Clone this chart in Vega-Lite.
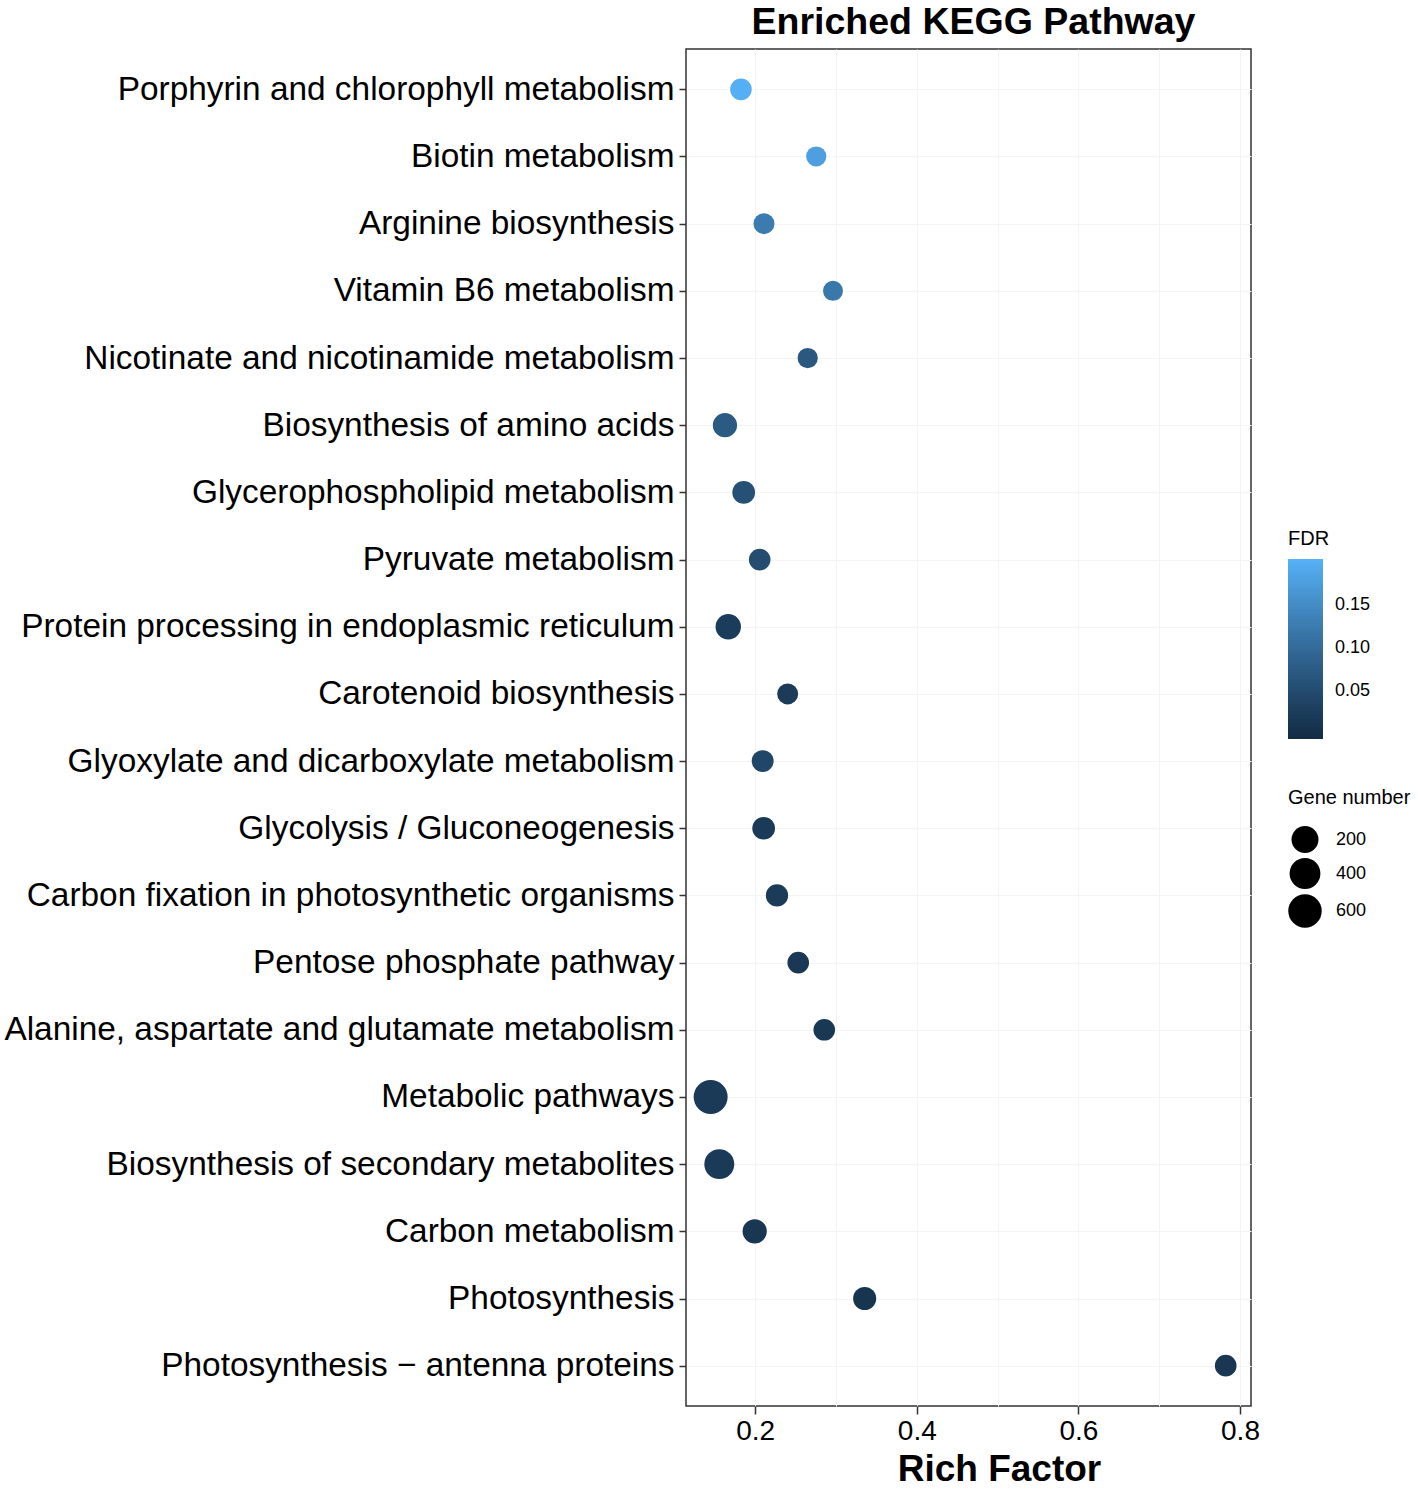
{
  "$schema": "https://vega.github.io/schema/vega-lite/v6.json",
  "width": 565,
  "height": 1357,
  "autosize": {"type": "none"},
  "padding": {"left": 686, "top": 49, "right": 167, "bottom": 83},
  "background": "white",
  "title": {"text": "Enriched KEGG Pathway", "fontSize": 37.5, "font": "Liberation Sans", "fontWeight": "bold", "color": "#000000", "anchor": "middle", "offset": 8, "dx": 5},
  "config": {
    "font": "Liberation Sans",
    "view": {"stroke": "#333333", "strokeWidth": 1.5}
  },
  "data": {"values": [
    {"Pathway": "Porphyrin and chlorophyll metabolism", "RichFactor": 0.1824, "FDR": 0.2, "GeneNumber": 53},
    {"Pathway": "Biotin metabolism", "RichFactor": 0.2756, "FDR": 0.178, "GeneNumber": 32},
    {"Pathway": "Arginine biosynthesis", "RichFactor": 0.2109, "FDR": 0.125, "GeneNumber": 43},
    {"Pathway": "Vitamin B6 metabolism", "RichFactor": 0.2963, "FDR": 0.12, "GeneNumber": 30},
    {"Pathway": "Nicotinate and nicotinamide metabolism", "RichFactor": 0.265, "FDR": 0.07, "GeneNumber": 33},
    {"Pathway": "Biosynthesis of amino acids", "RichFactor": 0.1626, "FDR": 0.075, "GeneNumber": 109},
    {"Pathway": "Glycerophospholipid metabolism", "RichFactor": 0.1858, "FDR": 0.058, "GeneNumber": 73},
    {"Pathway": "Pyruvate metabolism", "RichFactor": 0.2056, "FDR": 0.052, "GeneNumber": 53},
    {"Pathway": "Protein processing in endoplasmic reticulum", "RichFactor": 0.1667, "FDR": 0.025, "GeneNumber": 144},
    {"Pathway": "Carotenoid biosynthesis", "RichFactor": 0.2402, "FDR": 0.022, "GeneNumber": 43},
    {"Pathway": "Glyoxylate and dicarboxylate metabolism", "RichFactor": 0.2093, "FDR": 0.042, "GeneNumber": 58},
    {"Pathway": "Glycolysis / Gluconeogenesis", "RichFactor": 0.2105, "FDR": 0.02, "GeneNumber": 73},
    {"Pathway": "Carbon fixation in photosynthetic organisms", "RichFactor": 0.227, "FDR": 0.022, "GeneNumber": 64},
    {"Pathway": "Pentose phosphate pathway", "RichFactor": 0.2533, "FDR": 0.018, "GeneNumber": 53},
    {"Pathway": "Alanine, aspartate and glutamate metabolism", "RichFactor": 0.2855, "FDR": 0.017, "GeneNumber": 53},
    {"Pathway": "Metabolic pathways", "RichFactor": 0.1449, "FDR": 0.02, "GeneNumber": 650},
    {"Pathway": "Biosynthesis of secondary metabolites", "RichFactor": 0.1556, "FDR": 0.02, "GeneNumber": 346},
    {"Pathway": "Carbon metabolism", "RichFactor": 0.1994, "FDR": 0.015, "GeneNumber": 109},
    {"Pathway": "Photosynthesis", "RichFactor": 0.3355, "FDR": 0.012, "GeneNumber": 81},
    {"Pathway": "Photosynthesis − antenna proteins", "RichFactor": 0.7823, "FDR": 0.016, "GeneNumber": 53}
  ]},
  "mark": {"type": "circle", "opacity": 1},
  "encoding": {
    "x": {
      "field": "RichFactor", "type": "quantitative",
      "scale": {"domain": [0.1144, 0.8136], "nice": false, "zero": false},
      "axis": {
        "values": [0.2, 0.3, 0.4, 0.5, 0.6, 0.7, 0.8],
        "labelExpr": "round(datum.value*10) % 2 == 0 ? format(datum.value, '.1f') : ''",
        "tickOpacity": {"condition": {"test": "round(datum.value*10) % 2 == 1", "value": 0}, "value": 1},
        "title": "Rich Factor",
        "titleFontSize": 37, "titleFontWeight": "bold", "titleColor": "#000000",
        "titleX": 313, "titleY": 74, "titleAlign": "center", "titleBaseline": "alphabetic",
        "labelFontSize": 28, "labelColor": "#000000", "labelPadding": 3,
        "tickSize": 8, "tickColor": "#333333", "tickWidth": 1.5,
        "grid": true, "gridColor": "#F4F4F4", "gridWidth": 1,
        "domain": false
      }
    },
    "y": {
      "field": "Pathway", "type": "nominal", "sort": null,
      "scale": {"type": "point", "padding": 0.6},
      "axis": {
        "title": null,
        "labelFontSize": 33.4, "labelColor": "#000000", "labelPadding": 5, "labelLimit": 1000,
        "tickSize": 7, "tickColor": "#333333", "tickWidth": 1.5,
        "grid": true, "gridColor": "#F4F4F4", "gridWidth": 1,
        "domain": false
      }
    },
    "color": {
      "field": "FDR", "type": "quantitative",
      "scale": {"domain": [-0.0055, 0.2035], "range": ["#132B43", "#56B1F7"], "interpolate": "lab"},
      "legend": {
        "orient": "none", "legendX": 602, "legendY": 480,
        "title": "FDR", "titleFontSize": 20, "titleFontWeight": "normal", "titleColor": "#000000", "titlePadding": 10,
        "direction": "vertical", "gradientLength": 180, "gradientThickness": 35, "gradientStrokeWidth": 0,
        "values": [0.05, 0.1, 0.15], "format": ".2f",
        "labelFontSize": 18, "labelColor": "#000000", "labelOffset": 12
      }
    },
    "size": {
      "field": "GeneNumber", "type": "quantitative",
      "scale": {"type": "sqrt", "domain": [30, 650], "range": [400, 1156], "zero": false},
      "legend": {
        "orient": "none", "legendX": 602, "legendY": 739,
        "title": "Gene number", "titleFontSize": 20, "titleFontWeight": "normal", "titleColor": "#000000", "titlePadding": 18,
        "values": [200, 400, 600],
        "symbolFillColor": "#000000", "symbolStrokeColor": "#000000", "symbolStrokeWidth": 0, "symbolOpacity": 1,
        "labelFontSize": 18, "labelColor": "#000000", "labelOffset": 14, "rowPadding": 5
      }
    }
  }
}
